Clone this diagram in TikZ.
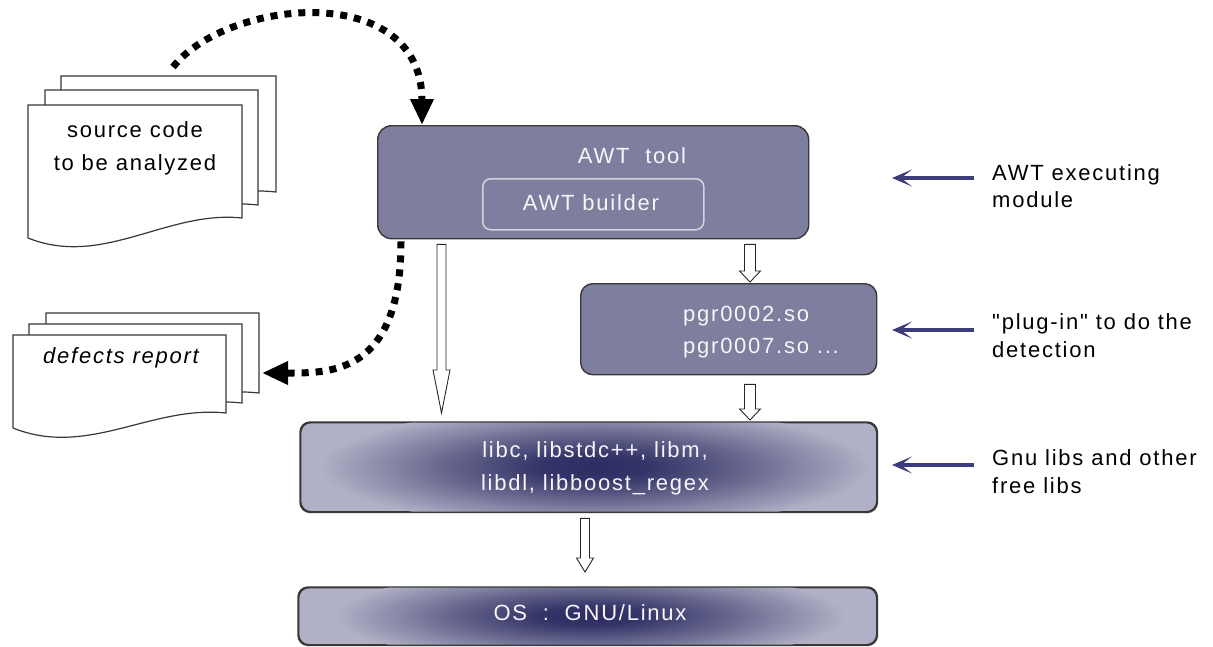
\documentclass[tikz,border=0pt]{standalone}
\usepackage{fontspec}
\setmainfont{Liberation Sans}[LetterSpace=8, Ligatures=TeXOff]
\usetikzlibrary{arrows.meta,calc}
\definecolor{boxfill}{HTML}{7E7E9F}
\definecolor{boxline}{HTML}{383838}
\definecolor{libdark}{HTML}{2C2C62}
\definecolor{libmid}{HTML}{62628A}
\definecolor{liblight}{HTML}{B0B0C6}
\definecolor{navyc}{HTML}{3C3C7C}
\definecolor{txtwhite}{HTML}{F6F6FA}
\definecolor{bldline}{HTML}{D4D4DE}
\pgfdeclareradialshading{libshade}{\pgfpoint{0bp}{0bp}}{color(0bp)=(libdark); color(5bp)=(libdark!85!libmid); color(13bp)=(libmid); color(25bp)=(liblight); color(50bp)=(liblight)}
\newcommand\docpage[5]{%
  \draw[page] (#1,#2) -- (#3,#2) -- (#3,#4)
    .. controls ({#3-0.35*(#3-#1)},{#4-8}) and ({#1+0.35*(#3-#1)},{#5+30}) .. (#1,#5) -- cycle;}
\newcommand\hollowdown[5]{%
  \draw[hollowarrow] let \p1=#1, \p2=#2 in
   (\x1-#3,\y1) -- (\x1-#3,\y2+#5) -- (\x1-#4,\y2+#5) -- (\x1,\y2)
   -- (\x1+#4,\y2+#5) -- (\x1+#3,\y2+#5) -- (\x1+#3,\y1) -- cycle;}
\begin{document}
\begin{tikzpicture}[x=1pt,y=-1pt,
  page/.style={draw=boxline, fill=white, line width=1.2pt},
  box/.style={draw=boxline, fill=boxfill, line width=1.4pt, rounded corners=14pt, inner sep=0pt},
  shbox/.style={draw=boxline, fill=liblight, line width=1.4pt, rounded corners=10pt, inner sep=0pt},
  intxt/.style={text=txtwhite, font=\fontsize{22}{27}\selectfont, inner sep=0pt, anchor=base},
  dark/.style={text=black, font=\fontsize{22}{27}\selectfont, inner sep=0pt, anchor=base},
  hollowarrow/.style={draw=black!85, fill=white, line width=0.9pt, line join=miter},
  dots/.style={black, line width=7pt, dash pattern=on 7pt off 7pt, -{Triangle[length=26pt,width=22pt]}},
  navyarrow/.style={navyc, line width=3.5pt, -{Stealth[length=20pt,width=17pt,inset=11pt]}}
]
\useasboundingbox (0,0) rectangle (1213,646);

% source documents
\docpage{61}{76}{276}{192}{192}
\docpage{45}{90}{258}{205}{205}
\docpage{28}{105}{242}{218}{238}
\node[dark] (src1) at (135,137) {source code};
\node[dark] (src2) at (135,170) {to be analyzed};
\coordinate (srcstart) at (173,67);

% defect report documents
\docpage{46}{313}{259}{393}{393}
\docpage{29}{324}{242}{403}{403}
\docpage{13}{335}{226}{413}{428}
\node[dark] (def) at (121,363) {\itshape defects report};
\coordinate (deftip) at (262,373);

% AWT tool
\node[box, anchor=north west, minimum width=431pt, minimum height=113pt] (awt) at (377,125) {};
\node[intxt] (awtlbl) at (632,163) {AWT\ \ tool};
\node[draw=bldline, line width=1.5pt, rounded corners=8pt, inner sep=0pt, anchor=north west,
      minimum width=221pt, minimum height=51pt] (bld) at (482,178) {};
\node[intxt] (bldlbl) at (591,210) {AWT builder};

% plug-ins
\node[box, rounded corners=12pt, anchor=north west, minimum width=296pt, minimum height=91pt] (pgr) at (580,283) {};
\node[intxt, anchor=base west] (pgr1) at (683,321) {pgr0002.so};
\node[intxt, anchor=base west] (pgr2) at (683,353) {pgr0007.so ...};

% libraries
\node[shbox, anchor=north west, minimum width=576pt, minimum height=89pt] (lib) at (300,422) {};
\begin{scope}
  \clip[rounded corners=10pt] (lib.north west) rectangle (lib.south east);
  \shade[shading=libshade] (595,467) ellipse (275pt and 60pt);
\end{scope}
\draw[draw=boxline, line width=1.4pt, rounded corners=10pt] (lib.north west) rectangle (lib.south east);
\node[intxt] (lib1) at (595,457) {libc, libstdc++, libm,};
\node[intxt] (lib2) at (595,490) {libdl, libboost\_regex};

% OS
\node[shbox, anchor=north west, minimum width=578pt, minimum height=57pt] (os) at (298,587) {};
\begin{scope}
  \clip[rounded corners=10pt] (os.north west) rectangle (os.south east);
  \shade[shading=libshade] (590,616) ellipse (255pt and 47pt);
\end{scope}
\draw[draw=boxline, line width=1.4pt, rounded corners=10pt] (os.north west) rectangle (os.south east);
\node[intxt] (oslbl) at (590,620) {OS\ \ :\ \ GNU/Linux};

% hollow arrows
\hollowdown{($(awt.south west)+(64.5,5)$)}{($(lib.north west)+(141.5,-9)$)}{4.5}{8.5}{43}
\hollowdown{($(awt.south west)+(373,5)$)}{($(pgr.north west)+(170,-1)$)}{5.5}{10.5}{11}
\hollowdown{($(pgr.south west)+(170,9)$)}{($(lib.north west)+(450,-2)$)}{5.5}{10.5}{11}
\hollowdown{($(lib.south west)+(285,6)$)}{($(os.north west)+(287,-15)$)}{4.5}{8.5}{14}

% dotted flows
\draw[dots] (srcstart) .. controls (228,-2) and ($(awt.north west)+(45,-145)$) .. ($(awt.north west)+(45,0)$);
\draw[dots] ($(awt.south west)+(24,2)$) .. controls (401,375) and (330,373) .. (deftip);

% right-hand legend
\node[dark, anchor=base west] (l1a) at (992,180) {AWT executing};
\node[dark, anchor=base west] (l1b) at (992,207) {module};
\node[dark, anchor=base west] (l2a) at (992,329) {"plug-in" to do the};
\node[dark, anchor=base west] (l2b) at (992,357) {detection};
\node[dark, anchor=base west] (l3a) at (992,465) {Gnu libs and other};
\node[dark, anchor=base west] (l3b) at (992,493) {free libs};
\coordinate (a1s) at (974,178); \coordinate (a1e) at (892,178);
\coordinate (a2s) at (974,330); \coordinate (a2e) at (892,330);
\coordinate (a3s) at (974,465); \coordinate (a3e) at (892,465);
\draw[navyarrow] (a1s) -- (a1e);
\draw[navyarrow] (a2s) -- (a2e);
\draw[navyarrow] (a3s) -- (a3e);
\end{tikzpicture}
\end{document}
